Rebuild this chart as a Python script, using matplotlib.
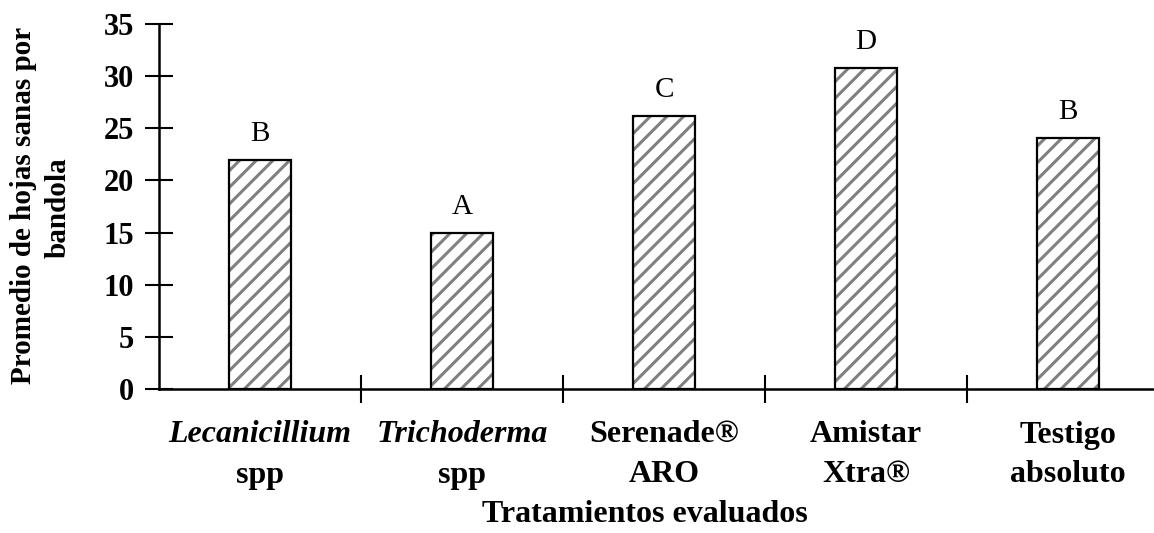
import matplotlib
matplotlib.use("Agg")
import matplotlib.pyplot as plt
from matplotlib.transforms import blended_transform_factory

categories_line1 = ["Lecanicillium", "Trichoderma", "Serenade®", "Amistar", "Testigo"]
categories_line2 = ["spp", "spp", "ARO", "Xtra®", "absoluto"]
italic_first = [True, True, False, False, False]
values = [22.0, 15.0, 26.2, 30.8, 24.1]
letters = ["B", "A", "C", "D", "B"]
yticks = [0, 5, 10, 15, 20, 25, 30, 35]

plt.rcParams['font.family'] = ['Liberation Serif', 'DejaVu Serif']
plt.rcParams['hatch.color'] = '#808080'
plt.rcParams['hatch.linewidth'] = 2.2

fig = plt.figure(figsize=(11.54, 5.33), dpi=100)
ax = fig.add_axes([159/1154, 144/533, (1154-159)/1154, (389-24)/533])

x = list(range(len(values)))
w = 0.31
ax.bar(x, values, width=w, color='white', edgecolor='#808080', linewidth=0, hatch='//', zorder=2)
ax.bar(x, values, width=w, color='none', edgecolor='black', linewidth=1.6, zorder=3)

for xi, v, l in zip(x, values, letters):
    ax.text(xi, v + 1.2, l, ha='center', va='bottom', fontsize=21)

ax.set_ylim(0, 35)
ax.set_xlim(-0.5, -0.5 + (1154-159)/202)
ax.set_yticks(yticks)
ax.set_yticklabels([str(t) for t in yticks], fontsize=22, fontweight='bold')
ax.tick_params(axis='y', direction='inout', length=20, width=1.5, pad=8)

ax.set_xticks([i + 0.5 for i in range(len(values) - 1)])
ax.set_xticklabels([])
ax.tick_params(axis='x', direction='inout', length=20, width=1.5)

for s in ['top', 'right']:
    ax.spines[s].set_visible(False)
ax.spines['left'].set_linewidth(1.8)
ax.spines['bottom'].set_linewidth(1.8)

trans = blended_transform_factory(ax.transData, fig.transFigure)
for xi, a, b, it in zip(x, categories_line1, categories_line2, italic_first):
    ax.text(xi, 1 - 435/533, a, transform=trans, ha='center', va='center',
            fontsize=23, fontweight='bold', fontstyle='italic' if it else 'normal')
    ax.text(xi, 1 - 475/533, b, transform=trans, ha='center', va='center',
            fontsize=23, fontweight='bold')

fig.text(645/1154, 1 - 515/533, "Tratamientos evaluados",
         ha='center', va='center', fontsize=23, fontweight='bold')

fig.text(24/1154, 1 - 205/533, "Promedio de hojas sanas por", rotation=90,
         ha='center', va='center', fontsize=21, fontweight='bold')
fig.text(58/1154, 1 - 208/533, "bandola", rotation=90,
         ha='center', va='center', fontsize=21, fontweight='bold')

fig.savefig("out.png", dpi=100)
